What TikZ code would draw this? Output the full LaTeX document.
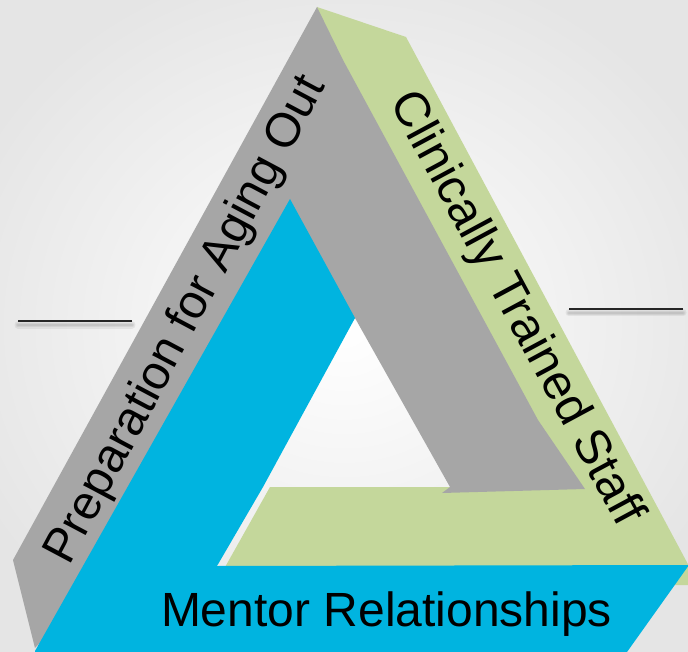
\documentclass[tikz,border=0pt]{standalone}
\usepackage{fontspec}
\setmainfont{Liberation Sans}
\definecolor{bandgray}{HTML}{A6A6A6}
\definecolor{bandgreen}{HTML}{C4D79B}
\definecolor{bandblue}{HTML}{00B4E0}
\begin{document}
\begin{tikzpicture}[x=1pt,y=-1pt,
  band/.style={draw=none},
  bandlabel/.style={inner sep=0pt, outer sep=0pt, font=\fontsize{48}{58}\selectfont, text=black},
  rule/.style={line width=1.1pt, draw=black!85},
  ruleshadow/.style={line width=#1, draw=black, opacity=0.06, line cap=round}]
\useasboundingbox (0,0) rectangle (688,652);
\clip (0,0) rectangle (688,652);
% soft backdrop
\shade[inner color=white, outer color=black!10] (-60,-40) rectangle (748,692);

% short separator rules with their soft shadows
\coordinate (la) at (18,321);
\coordinate (lb) at (132,321);
\coordinate (ra) at (569,309);
\coordinate (rb) at (683,309);
\foreach \w in {7pt,4.5pt,2.5pt}{
  \draw[ruleshadow=\w] ([yshift=-4pt]la) -- ([yshift=-4pt]lb);
  \draw[ruleshadow=\w] ([yshift=-4pt]ra) -- ([yshift=-4pt]rb);
}
\draw[rule] (la) -- (lb);
\draw[rule] (ra) -- (rb);

% green band: right side and bottom
\fill[bandgreen, band] (317,7) -- (406,37) -- (690,568) -- (690,585) -- (215,585)
  -- (270,487) -- (460,487) -- cycle;
% grey band: left side, folding over the green
\fill[bandgray, band] (317,7) -- (343,60) -- (538,420) -- (585,489) -- (442,493)
  -- (450,487) -- (355,318) -- (35,648) -- (13,560) -- cycle;
% blue band: inner left and bottom
\fill[bandblue, band] (35,651) -- (290,199) -- (355,318) -- (263,487) -- (217,566)
  -- (689,565) -- (627,652) -- (35,652) -- cycle;

% band captions
\node[bandlabel, anchor=base west, rotate=62] (prep) at (69.9,566.5) {Preparation for Aging Out};
\node[bandlabel, anchor=base west, rotate=-61.7, font=\fontsize{49}{59}\selectfont] (staff) at (389,102) {Clinically Trained Staff};
\node[bandlabel, anchor=base west] (mentor) at (161,626) {Mentor Relationships};
\end{tikzpicture}
\end{document}
